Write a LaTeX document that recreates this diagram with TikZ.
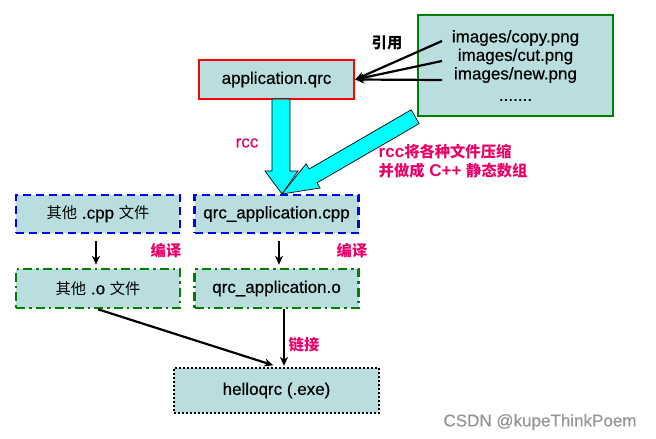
\documentclass[tikz,border=0pt]{standalone}
\usepackage{fontspec}
\setmainfont{Liberation Sans}[UprightFeatures={FakeBold=0.5}]
\newfontfamily\cjk[Scale=0.9]{Noto Sans CJK SC}
\definecolor{box_c}{RGB}{186,222,224}
\definecolor{red_c}{RGB}{255,0,0}
\definecolor{green_c}{RGB}{0,128,0}
\definecolor{blue_c}{RGB}{0,0,255}
\definecolor{note_c}{RGB}{236,0,104}
\definecolor{block_c}{RGB}{0,255,255}
\definecolor{mark_c}{RGB}{150,150,150}
\usetikzlibrary{arrows.meta,
                positioning}

\begin{document}
\begin{tikzpicture}[
			x=1pt, y=-1pt,
			thick,
			every node/.style = {font=\fontsize{17}{18.5}\selectfont},
			box/.style = {rectangle, fill=box_c, inner sep=0pt},
			qrcbox/.style = {box, draw=red_c, line width=2.4pt, minimum width=155pt, minimum height=39pt},
			resbox/.style = {box, draw=green_c, line width=2.6pt, minimum width=195pt, minimum height=101pt},
			srcbox/.style = {box, draw=blue_c, line width=2.6pt, dash pattern=on 8pt off 5pt, minimum width=164pt, minimum height=38pt},
			objbox/.style = {box, draw=green_c, line width=2.6pt, dash pattern=on 9pt off 4pt on 2.5pt off 4pt, minimum width=164pt, minimum height=39pt},
			exebox/.style = {box, draw=black, line width=2.4pt, dash pattern=on 2pt off 2pt, minimum width=205pt, minimum height=45pt},
			han/.style = {font=\fontsize{17}{18.5}\selectfont\cjk\bfseries},
			note/.style = {text=note_c},
			link/.style = {line width=2.2pt, -{Stealth[length=9pt,width=8pt]}},
			block/.style = {fill=block_c, draw=black, line width=0.7pt},
			]
			\useasboundingbox (0,0) rectangle (656,439);
			% boxes
			\node[qrcbox] (qrc) at (276.5,79.5) {application.qrc};
			\node[resbox, align=center] (res) at (515.5,65.5) {images/copy.png\\images/cut.png\\images/new.png\\[3pt].......};
			\node[srcbox] (cpp) at (98,214) {{\cjk 其他} .cpp {\cjk 文件}};
			\node[srcbox] (qcpp) at (276.5,214) {qrc\_application.cpp};
			\node[objbox] (obj) at (98,288.5) {{\cjk 其他} .o {\cjk 文件}};
			\node[objbox] (qobj) at (276.5,288.5) {qrc\_application.o};
			\node[exebox] (exe) at (276.5,390.5) {helloqrc (.exe)};
			% rcc arrows
			\draw[block] (272,99) -- (272,171) -- (265,171) -- (282,194) -- (298,171) -- (290,171) -- (290,99) -- cycle;
			\draw[block] (411.2,109.8) -- (309.1,169.0) -- (306.1,163.8) -- (282,194) -- (320.1,188.0) -- (317.1,182.8) -- (419.2,123.6) -- cycle;
			% notes
			\node[han] (cite) at (387,43) {引用};
			\node[note, font=\fontsize{17}{18.5}\selectfont\mdseries] (rcc) at (247,143) {rcc};
			\node[note, font=\fontsize{17}{18.5}\selectfont\bfseries, anchor=west, align=left] (pack) at (375,161) {rcc{\cjk 将各种文件压缩}\\{\cjk 并做成} C++ {\cjk 静态数组}};
			\node[han, note] (comp1) at (166,251) {编译};
			\node[han, note] (comp2) at (352,251) {编译};
			\node[han, note] (ld) at (304,345) {链接};
			\node[text=mark_c] (mark) at (540,422) {CSDN @kupeThinkPoem};
			% edges
			\coordinate (r1) at (442,41);
			\coordinate (r2) at (442,61);
			\coordinate (r3) at (442,80);
			\draw[link] (r1) -- (qrc.east);
			\draw[link] (r2) -- (qrc.east);
			\draw[link] (r3) -- (qrc.east);
			\draw[link, shorten <=7pt, shorten >=3pt] ([xshift=-2pt]cpp.south) -- ([xshift=-2pt]obj.north);
			\draw[link, shorten <=7pt, shorten >=3pt] ([xshift=2.5pt]qcpp.south) -- ([xshift=2.5pt]qobj.north);
			\draw[link, shorten >=1pt] ([xshift=7.5pt]qobj.south) -- ([xshift=7.5pt]exe.north);
			\draw[link, shorten >=5pt] (obj.south) -- ([xshift=1.5pt]exe.north);
		\end{tikzpicture}
\end{document}
